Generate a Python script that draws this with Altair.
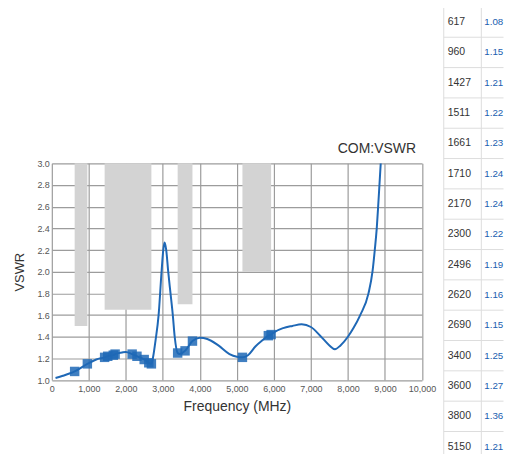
import altair as alt
import pandas as pd

# ---- data ----
curve_freq = [100, 300, 617, 960, 1200, 1427, 1511, 1661, 1710, 1900, 2000, 2170, 2300, 2496, 2620, 2690,
              2740, 2800, 2885, 2965, 3011, 3046, 3091, 3145, 3207, 3269, 3320, 3400, 3450, 3600, 3800,
              4000, 4200, 4500, 4800, 5000, 5150, 5300, 5500, 5700, 5850, 5925, 6000, 6250, 6500, 6750,
              7000, 7250, 7500, 7650, 7800, 8000, 8150, 8333, 8556, 8664, 8726, 8779, 8817, 8852, 8887]
curve_vswr = [1.02, 1.04, 1.08, 1.15, 1.19, 1.21, 1.22, 1.23, 1.24, 1.255, 1.26, 1.24, 1.22, 1.19, 1.16, 1.15,
              1.22, 1.36, 1.6, 2.0, 2.2, 2.27, 2.2, 2.0, 1.8, 1.6, 1.4, 1.25, 1.24, 1.27, 1.36,
              1.39, 1.38, 1.32, 1.24, 1.215, 1.21, 1.23, 1.31, 1.37, 1.41, 1.42, 1.44, 1.48, 1.50, 1.515,
              1.49, 1.41, 1.32, 1.285, 1.32, 1.40, 1.48, 1.6, 1.8, 2.0, 2.2, 2.4, 2.6, 2.8, 3.0]

mark_freq = [617, 960, 1427, 1511, 1661, 1710, 2170, 2300, 2496, 2620, 2690, 3400, 3600, 3800, 5150, 5850, 5925]
mark_vswr = [1.08, 1.15, 1.21, 1.22, 1.23, 1.24, 1.24, 1.22, 1.19, 1.16, 1.15, 1.25, 1.27, 1.36, 1.21, 1.41, 1.42]

band_start = [617, 1427, 3400, 5150]
band_end = [960, 2690, 3800, 5925]
band_limit = [1.5, 1.65, 1.7, 2.0]

table_freq = ["617", "960", "1427", "1511", "1661", "1710", "2170", "2300", "2496", "2620", "2690",
              "3400", "3600", "3800", "5150"]
table_vswr = ["1.08", "1.15", "1.21", "1.22", "1.23", "1.24", "1.24", "1.22", "1.19", "1.16", "1.15",
              "1.25", "1.27", "1.36", "1.21"]

x_ticks = [0, 1000, 2000, 3000, 4000, 5000, 6000, 7000, 8000, 9000, 10000]
y_ticks = [1.0, 1.2, 1.4, 1.6, 1.8, 2.0, 2.2, 2.4, 2.6, 2.8, 3.0]

BLUE = "#1f68b6"
FONT = "Liberation Sans"

curve_df = pd.DataFrame({"freq": curve_freq, "vswr": curve_vswr})
mark_df = pd.DataFrame({"freq": mark_freq, "vswr": mark_vswr})
band_df = pd.DataFrame({"freq": band_start, "freq_end": band_end, "vswr_lo": band_limit,
                        "vswr": [y_ticks[-1]] * len(band_start)})

x_scale = alt.Scale(domain=[x_ticks[0], x_ticks[-1]], nice=False, zero=False)
y_scale = alt.Scale(domain=[y_ticks[0], y_ticks[-1]], nice=False, zero=False)

x_axis = alt.Axis(title="Frequency (MHz)", values=x_ticks, labelExpr="format(datum.value, ',')",
                  grid=True, gridColor="#9c9c9c",
                  gridWidth=1.2, ticks=False, tickSize=0, domain=False, labelFlush=False,
                  labelFontSize=9, labelColor="#555555", labelFont=FONT, labelPadding=4,
                  titleFont=FONT, titleFontSize=14, titleFontWeight="normal", titleColor="#333333",
                  titlePadding=7)
y_axis = alt.Axis(title="VSWR", values=y_ticks, labelExpr="format(datum.value, '.1f')",
                  grid=True, gridColor="#9c9c9c",
                  gridWidth=1.2, ticks=False, tickSize=0, domain=False, labelFlush=False,
                  labelFontSize=9, labelColor="#555555", labelFont=FONT, labelPadding=2.5,
                  titleFont=FONT, titleFontSize=13, titleFontWeight="normal", titleColor="#333333",
                  titlePadding=10)

bands = alt.Chart(band_df).mark_rect(color="#d3d3d3").encode(
    x=alt.X("freq:Q", scale=x_scale, axis=x_axis),
    x2="freq_end:Q",
    y=alt.Y("vswr:Q", scale=y_scale, axis=y_axis),
    y2="vswr_lo:Q",
)
line = alt.Chart(curve_df).mark_line(interpolate="monotone", color=BLUE, strokeWidth=2, clip=True).encode(
    x=alt.X("freq:Q", scale=x_scale, axis=x_axis),
    y=alt.Y("vswr:Q", scale=y_scale, axis=y_axis),
)
points = alt.Chart(mark_df).mark_square(size=90, color=BLUE, opacity=0.85).encode(
    x=alt.X("freq:Q", scale=x_scale, axis=x_axis),
    y=alt.Y("vswr:Q", scale=y_scale, axis=y_axis),
)

main = alt.layer(bands, line, points).properties(
    width=371.6, height=217.7,
    title=alt.TitleParams("COM:VSWR", anchor="end", frame="group", dx=-6, offset=3, fontSize=14,
                          fontWeight="normal", font=FONT, color="#333333"),
)

spacer = alt.Chart(pd.DataFrame({"sx": [0.5], "sy": [0.5]})).mark_point(opacity=0).encode(
    x=alt.X("sx:Q", scale=alt.Scale(domain=[0, 1]), axis=None),
    y=alt.Y("sy:Q", scale=alt.Scale(domain=[0, 1]), axis=None),
).properties(width=371.6, height=135.9)

left = alt.vconcat(spacer, main, spacing=0)

# ---- table ----
n = len(table_freq)
col_end = 1.59
rows_df = pd.DataFrame({"row": [i + 0.5 for i in range(n)], "freq": table_freq, "vswr": table_vswr,
                        "c0": [0.0] * n, "c1": [1.0] * n})
hline_df = pd.DataFrame({"row": list(range(n + 1)), "x0": [0.0] * (n + 1), "x1": [col_end] * (n + 1)})
vline_df = pd.DataFrame({"col": [0.0, 1.0], "y0": [0, 0], "y1": [n, n]})

tx = alt.Scale(domain=[0, col_end], nice=False, zero=False)
ty = alt.Scale(domain=[0, n], nice=False, zero=False, reverse=True)

hlines = alt.Chart(hline_df).mark_rule(color="#dddddd", strokeWidth=1).encode(
    y=alt.Y("row:Q", scale=ty, axis=None),
    x=alt.X("x0:Q", scale=tx, axis=None),
    x2="x1:Q",
)
vlines = alt.Chart(vline_df).mark_rule(color="#dddddd", strokeWidth=1).encode(
    x=alt.X("col:Q", scale=tx, axis=None),
    y=alt.Y("y0:Q", scale=ty, axis=None),
    y2="y1:Q",
)
freq_text = alt.Chart(rows_df).mark_text(align="left", baseline="middle", fontSize=10.5, font=FONT,
                                         color="#333333", dx=4).encode(
    x=alt.X("c0:Q", scale=tx, axis=None),
    y=alt.Y("row:Q", scale=ty, axis=None),
    text="freq:N",
)
vswr_text = alt.Chart(rows_df).mark_text(align="left", baseline="middle", fontSize=9.8, font=FONT,
                                         color="#2060b0", dx=3).encode(
    x=alt.X("c1:Q", scale=tx, axis=None),
    y=alt.Y("row:Q", scale=ty, axis=None),
    text="vswr:N",
)
table = alt.layer(hlines, vlines, freq_text, vswr_text).properties(width=60, height=30.45 * n)

chart = alt.hconcat(left, table, spacing=6.5).properties(
    padding={"left": 5, "top": -3, "right": 0, "bottom": 0}
).configure_view(stroke=None)

chart.save("out.html", embed_options={"renderer": "svg", "actions": False})
